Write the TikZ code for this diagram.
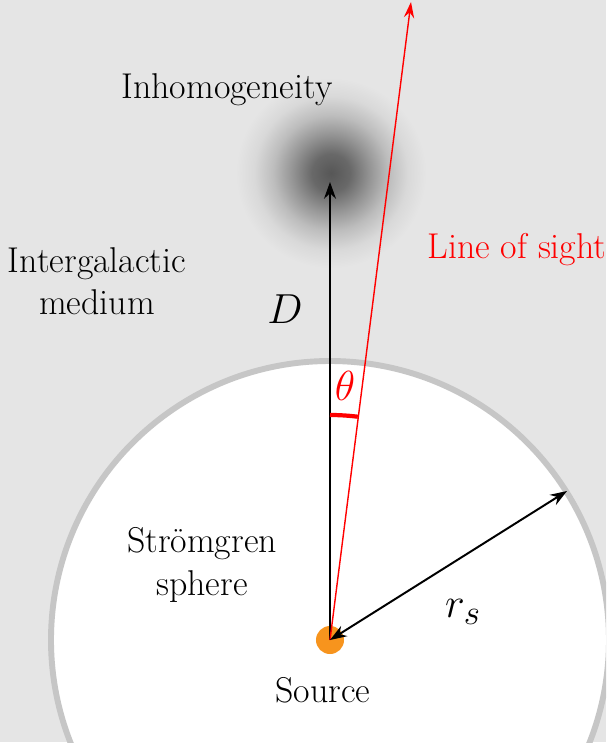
\documentclass[tikz,border=0pt]{standalone}
\usepackage{graphicx}
\usepackage{tikz}
\usetikzlibrary{arrows.meta, positioning}
\definecolor{srcorange}{RGB}{247,148,29}
\pgfdeclareradialshading{haze}{\pgfpointorigin}{color(0bp)=(black!66); color(5bp)=(black!59); color(10bp)=(black!42); color(15bp)=(black!26); color(20bp)=(black!15); color(25bp)=(black!10); color(50bp)=(black!10)}
\newcommand{\bigsym}[1]{\scalebox{1.2}{\Huge$#1$}}

\begin{document}
\begin{tikzpicture}[x=0.025cm, y=-0.025cm,
  lbl/.style={font=\fontsize{25.5}{30}\selectfont, align=center, inner sep=0pt},
  sym/.style={inner sep=0pt},
  tip/.style={-{Stealth[length=4.2mm, width=3mm, inset=1.4mm]}},
  vec/.style={line width=1.4pt, tip},
  sight/.style={red, line width=1pt, -{Stealth[length=4mm, width=2.6mm, inset=1.4mm]}}]
  \useasboundingbox (0,0) rectangle (608,745);
  % medium
  \fill[black!10] (0,0) rectangle (606,742);
  \node[circle, minimum size=4.8cm, shading=haze] (blob) at (331,173) {};
  % Stromgren sphere
  \begin{scope}
    \clip (0,0) rectangle (606,742);
    \draw[gray!45, fill=white, line width=4.2pt] (330,640) circle (279);
  \end{scope}
  % source and vectors
  \node[circle, fill=srcorange, minimum size=0.7cm, inner sep=0pt] (src) at (330,640) {};
  \coordinate (Dtip) at (330,182);
  \coordinate (top) at (411,2);
  \coordinate (rim) at (567,491);
  \draw[vec] (src.center) -- (Dtip);
  \draw[sight] (src.center) -- (top);
  \draw[line width=1.4pt, {Stealth[length=4.2mm, width=3mm, inset=1.4mm]}-{Stealth[length=4.2mm, width=3mm, inset=1.4mm]}] (src.center) -- (rim);
  \draw[red, line width=3pt] (src.center) ++(-90:225) arc[start angle=-90, end angle=-82.9, radius=225];
  % labels
  \node[lbl] (inh) at (227,90) {Inhomogeneity};
  \node[lbl] (igm) at (97,281) {Intergalactic\\medium};
  \node[lbl, red] (los) at (517,250) {Line of sight};
  \node[sym] (dlbl) at (285,309) {\bigsym{D}};
  \node[sym, red] (th) at (345,386) {\bigsym{\theta}};
  \node[lbl] (sph) at (202,565) {Str\"omgren\\sphere};
  \node[sym] (rs) at (463,612) {\bigsym{r_s}};
  \node[lbl] (srclbl) at (323,690) {Source};
\end{tikzpicture}
\end{document}
